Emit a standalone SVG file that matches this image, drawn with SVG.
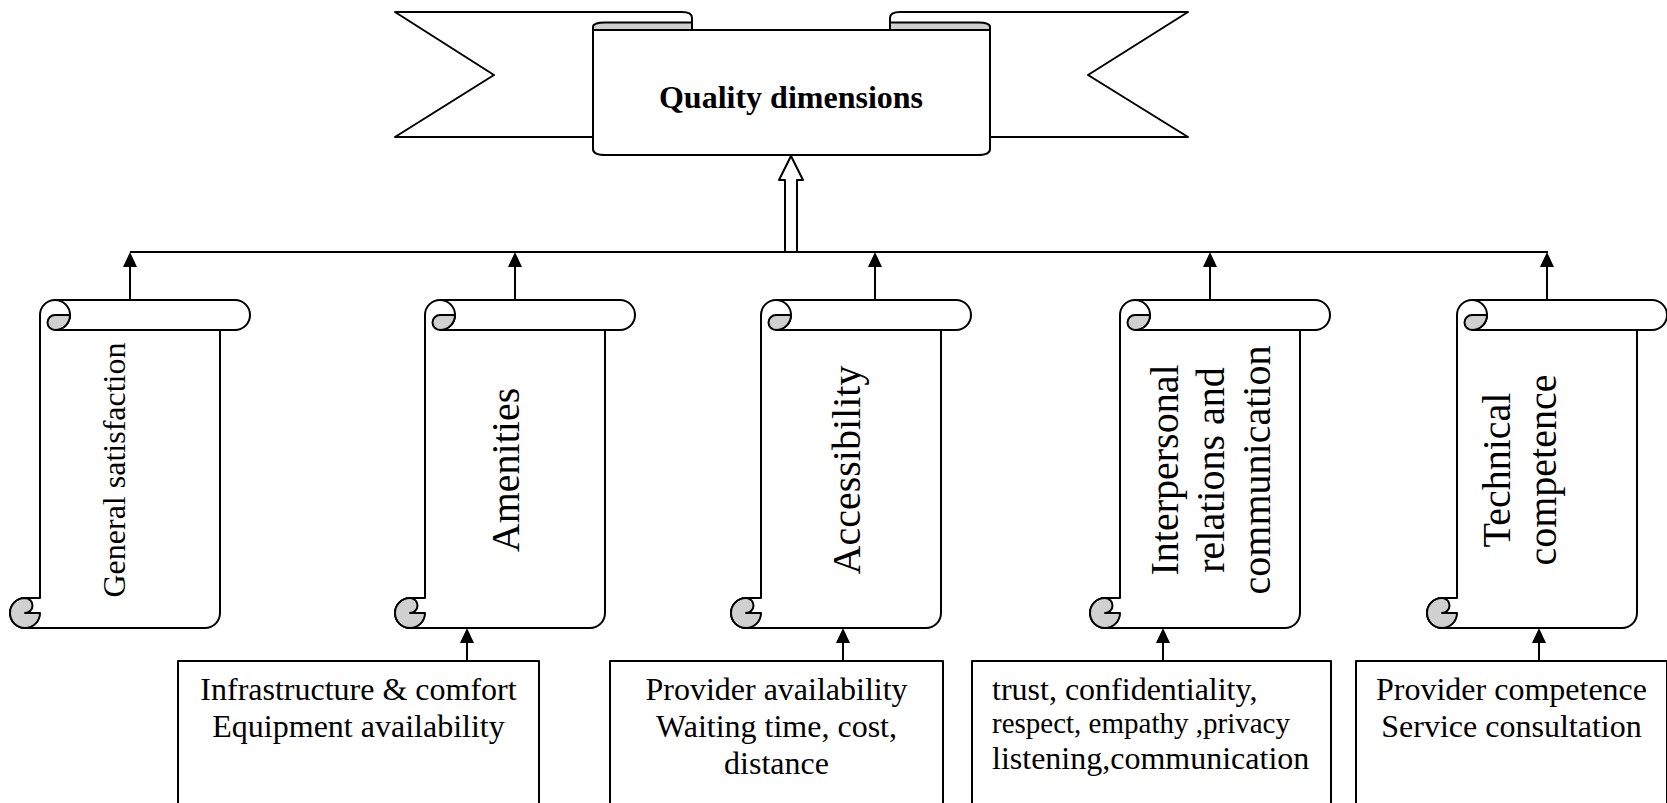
<svg xmlns="http://www.w3.org/2000/svg" xmlns:xlink="http://www.w3.org/1999/xlink" width="1667" height="803" viewBox="0 0 1667 803">
<style>
.ol{fill:#fff;stroke:#000;stroke-width:2;stroke-linejoin:round}
.ln{fill:none;stroke:#000;stroke-width:2}
.gr{fill:#d0d0d0;stroke:#000;stroke-width:2;stroke-linejoin:round}
.t{font-family:"Liberation Serif","Times New Roman",serif;fill:#000}
.v{font-size:40px;text-anchor:middle}
.b{font-size:32px;text-anchor:middle}
</style>
<defs>
<marker id="ah" markerWidth="15" markerHeight="14" refX="11" refY="7" orient="auto" markerUnits="userSpaceOnUse">
<path d="M0,0 L15,7 L0,14 Z" fill="#000"/>
</marker>
<g id="scroll">
<path class="ol" d="M30,298 L30,15 A15 15 0 0 1 45,0 L225,0 A15 15 0 0 1 225,30 L210,30 L210,313 A15 15 0 0 1 195,328 L15,328 A15 15 0 0 1 15,298 Z"/>
<path class="ln" d="M45,0 A15 15 0 0 1 45,30 L210,30"/>
<path class="gr" d="M45,15 A7.5 7.5 0 0 0 45,30 A15 15 0 0 0 60,15 Z"/>
<path class="gr" d="M15,298 A7.5 7.5 0 0 1 15,313 L30,313 A15 15 0 1 1 15,298 Z"/>
</g>
</defs>
<rect width="1667" height="803" fill="#fff"/>

<g id="quality-dimensions">
<path class="ol" d="M395,12 L682,12 Q692,12 692,18 L692,137 L395,137 L494,75 Z"/>
<path class="ol" d="M1188,12 L900,12 Q890,12 890,18 L890,137 L1188,137 L1088,75 Z"/>
<path class="ol" d="M593,30 L593,149 Q593,155 605,155 L978,155 Q990,155 990,149 L990,30 Z"/>
<path class="gr" d="M593,30 L593,27 Q593,22.5 605,22.5 L692,22.5 L692,30 Z"/>
<path class="gr" d="M890,22.5 L978,22.5 Q990,22.5 990,27 L990,30 L890,30 Z"/>
<text class="t" x="791" y="108" font-size="32" font-weight="bold" text-anchor="middle">Quality dimensions</text>
</g>

<g id="general-satisfaction">
<use xlink:href="#scroll" x="10" y="300"/>
<text class="t" font-size="32" text-anchor="middle" transform="translate(125,470) rotate(-90)">General satisfaction</text>
</g>

<g id="amenities">
<use xlink:href="#scroll" x="395" y="300"/>
<text class="t v" transform="translate(519,470) rotate(-90)">Amenities</text>
</g>

<g id="accessibility">
<use xlink:href="#scroll" x="731" y="300"/>
<text class="t v" transform="translate(860,470) rotate(-90)">Accessibility</text>
</g>

<g id="interpersonal">
<use xlink:href="#scroll" x="1090" y="300"/>
<text class="t v" transform="translate(1178,470) rotate(-90)">Interpersonal</text>
<text class="t v" transform="translate(1224,470) rotate(-90)">relations and</text>
<text class="t v" transform="translate(1270,470) rotate(-90)">communication</text>
</g>

<g id="technical-competence">
<use xlink:href="#scroll" x="1427" y="300"/>
<text class="t v" transform="translate(1510,470) rotate(-90)">Technical</text>
<text class="t v" transform="translate(1556,470) rotate(-90)">competence</text>
</g>

<g id="box-amenities">
<rect class="ol" x="178" y="661" width="361" height="160"/>
<text class="t b" x="358.5" y="700">Infrastructure &amp; comfort</text>
<text class="t b" x="358.5" y="737">Equipment availability</text>
</g>

<g id="box-accessibility">
<rect class="ol" x="610" y="661" width="333" height="160"/>
<text class="t b" x="776.5" y="700">Provider availability</text>
<text class="t b" x="776.5" y="737">Waiting time, cost,</text>
<text class="t b" x="776.5" y="774">distance</text>
</g>

<g id="box-interpersonal">
<rect class="ol" x="972" y="661" width="359" height="160"/>
<text class="t" x="992" y="700" font-size="32">trust, confidentiality,</text>
<text class="t" x="992" y="733" font-size="29">respect, empathy ,privacy</text>
<text class="t" x="992" y="769" font-size="32">listening,communication</text>
</g>

<g id="box-technical">
<rect class="ol" x="1356" y="661" width="311" height="160"/>
<text class="t b" x="1511.5" y="700">Provider competence</text>
<text class="t b" x="1511.5" y="737">Service consultation</text>
</g>

<g id="connectors">
<line class="ln" x1="130" y1="252" x2="1548" y2="252"/>
<polygon class="ol" points="785,252 785,180 779,180 791,156 803,180 797,180 797,252"/>
<line class="ln" x1="130" y1="300" x2="130" y2="256" marker-end="url(#ah)"/>
<line class="ln" x1="515" y1="300" x2="515" y2="256" marker-end="url(#ah)"/>
<line class="ln" x1="875" y1="300" x2="875" y2="256" marker-end="url(#ah)"/>
<line class="ln" x1="1210" y1="300" x2="1210" y2="256" marker-end="url(#ah)"/>
<line class="ln" x1="1547" y1="300" x2="1547" y2="256" marker-end="url(#ah)"/>
<line class="ln" x1="467" y1="661" x2="467" y2="632" marker-end="url(#ah)"/>
<line class="ln" x1="843" y1="661" x2="843" y2="632" marker-end="url(#ah)"/>
<line class="ln" x1="1163" y1="661" x2="1163" y2="632" marker-end="url(#ah)"/>
<line class="ln" x1="1539" y1="661" x2="1539" y2="632" marker-end="url(#ah)"/>
</g>
</svg>
